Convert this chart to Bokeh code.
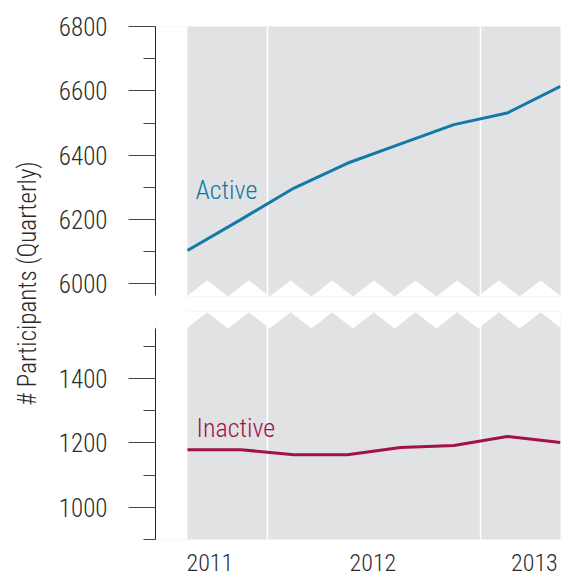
import numpy as np
from bokeh.plotting import figure
from bokeh.layouts import row, column
from bokeh.models import FixedTicker, Range1d, Label
from bokeh.embed import file_html
from bokeh.resources import INLINE
from bokeh.core.properties import value

# ---- data ----
quarters = [0, 1, 2, 3, 4, 5, 6, 7]
active = [6104, 6200, 6298, 6375, 6435, 6495, 6531, 6614]
inactive = [1179, 1179, 1163, 1163, 1186, 1192, 1220, 1201]
year_ticks = [0.42, 3.48, 6.51]
year_labels = ["2011", "2012", "2013"]
top_major = [6000, 6200, 6400, 6600, 6800]
top_minor = [6100, 6300, 6500, 6700]
bot_major = [1000, 1200, 1400]
bot_minor = [900, 1100, 1300, 1500]
grid_pos = [1.5, 5.5]

FONT = "'Roboto Condensed Light', 'Roboto Condensed', 'DejaVu Sans Condensed', Roboto, sans-serif"
TXT = "#2a2a2a"
GRAY = "#e1e2e4"
BLUE = "#1479a6"
RED = "#a3104a"
X0 = -0.6
FS = "25px"

PERIOD = 0.782
k = np.arange(-4, 24)
zx = 0.37 + k * PERIOD / 2
is_peak = (k % 2 == 0)


def style_yaxis(p, major, minor, bounds):
    ax = p.yaxis[0]
    ax.ticker = FixedTicker(ticks=major, minor_ticks=minor)
    ax.bounds = bounds
    ax.axis_line_color = "#222222"
    ax.axis_line_width = 1
    ax.major_tick_line_color = "#444444"
    ax.minor_tick_line_color = "#444444"
    ax.major_tick_out = 27
    ax.major_tick_in = 0
    ax.minor_tick_out = 12
    ax.minor_tick_in = 0
    ax.major_label_standoff = 21
    ax.major_label_text_font = FONT
    ax.major_label_text_font_size = FS
    ax.major_label_text_color = TXT


def base_fig(h, y0, y1, btop, bbottom, xloc):
    p = figure(width=512, height=h, x_range=Range1d(X0, 7), y_range=Range1d(y0, y1),
               output_backend="svg", toolbar_location=None,
               min_border_left=105, min_border_right=2,
               min_border_top=btop, min_border_bottom=bbottom,
               background_fill_color=GRAY, border_fill_color="white",
               outline_line_color=None, x_axis_location=xloc)
    p.xgrid.ticker = FixedTicker(ticks=grid_pos)
    p.xgrid.grid_line_color = "white"
    p.xgrid.grid_line_width = 1.5
    p.ygrid.grid_line_color = None
    p.quad(left=X0 - 1, right=0, bottom=y0 - 5000, top=y1 + 5000,
           fill_color="white", line_color=None)
    return p


# ---- top panel (Active) ----
top = base_fig(300, 5961, 6800, 26, 4, None)
zy_top = np.where(is_peak, 6011, 5961)
top.patch(np.concatenate([zx, [zx[-1], zx[0]]]),
          np.concatenate([zy_top, [5000, 5000]]),
          fill_color="white", line_color=None)
top.line(quarters, active, line_color=BLUE, line_width=3)
top.text(x=[0.15], y=[6291], text=["Active"], text_color=BLUE,
         text_font=value(FONT), text_font_size="26px",
         text_baseline="alphabetic", text_align="left")
style_yaxis(top, top_major, top_minor, (5964, 6800))

# ---- bottom panel (Inactive) ----
bot = base_fig(281, 900, 1608, 11, 42, "below")
zy_bot = np.where(is_peak, 1606, 1555)
bot.patch(np.concatenate([zx, [zx[-1], zx[0]]]),
          np.concatenate([zy_bot, [2500, 2500]]),
          fill_color="white", line_color=None)
bot.line(quarters, inactive, line_color=RED, line_width=3)
bot.text(x=[0.17], y=[1247], text=["Inactive"], text_color=RED,
         text_font=value(FONT), text_font_size="26px",
         text_baseline="alphabetic", text_align="left")
style_yaxis(bot, bot_major, bot_minor, (900, 1555))
xa = bot.xaxis[0]
xa.ticker = FixedTicker(ticks=year_ticks)
xa.major_label_overrides = {t: lab for t, lab in zip(year_ticks, year_labels)}
xa.axis_line_color = None
xa.major_tick_line_color = None
xa.minor_tick_line_color = None
xa.major_tick_out = 0
xa.major_tick_in = 0
xa.major_label_standoff = 14
xa.major_label_text_font = FONT
xa.major_label_text_font_size = "24px"
xa.major_label_text_color = TXT

# ---- y-axis title ----
lab = figure(width=50, height=581, x_range=Range1d(0, 1), y_range=Range1d(0, 1),
             output_backend="svg", toolbar_location=None,
             x_axis_location=None, y_axis_location=None, min_border=0,
             outline_line_color=None, background_fill_color="white",
             border_fill_color="white")
lab.grid.visible = False
lab.add_layout(Label(x=0.54, y=0.513, text="# Participants (Quarterly)",
                     angle=np.pi / 2, text_align="center", text_baseline="middle",
                     text_font=FONT, text_font_size=FS, text_color=TXT))

layout = row(lab, column(top, bot, spacing=0), spacing=0)
open("out.html", "w").write(file_html(layout, INLINE))
